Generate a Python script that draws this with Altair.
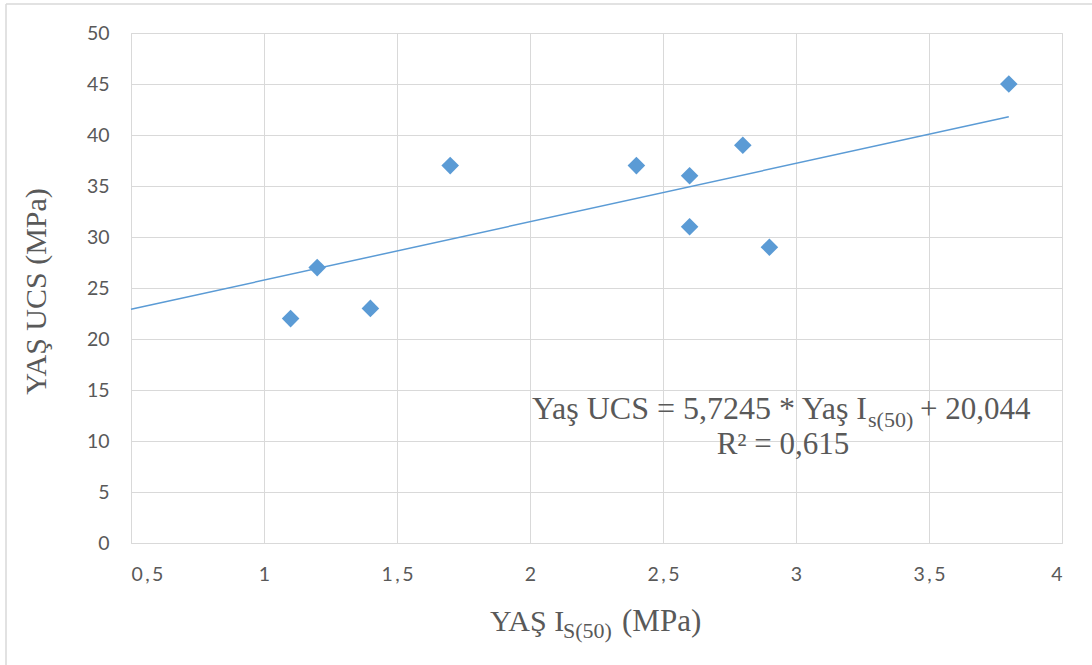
import altair as alt
import pandas as pd

# data
is50 = [1.1, 1.2, 1.4, 1.7, 2.4, 2.6, 2.6, 2.8, 2.9, 3.8]
ucs = [22, 27, 23, 37, 37, 36, 31, 39, 29, 45]

slope = 5.7245
intercept = 20.044
trend_x = [0.5, 3.8]

x_ticks = [0.5, 1, 1.5, 2, 2.5, 3, 3.5, 4]
y_ticks = [0, 5, 10, 15, 20, 25, 30, 35, 40, 45, 50]

y_title = "YAŞ  UCS (MPa)"
x_title_parts = ["YAŞ I", "S(50)", "(MPa)"]
eq_parts = ["Yaş UCS = 5,7245 * Yaş I", "s(50)", "+ 20,044"]
r2_text = "R² = 0,615"

BLUE = "#5B9BD5"
GRID = "#d9d9d9"
TXT = "#595959"
SERIF = "Liberation Serif"
SANS = "Lato"

W, H = 931, 510

df = pd.DataFrame({"x": is50, "y": ucs})
trend_df = pd.DataFrame({"x": trend_x, "y": [slope * v + intercept for v in trend_x]})

xscale = alt.Scale(domain=[0.5, 4], nice=False, zero=False)
yscale = alt.Scale(domain=[0, 50], nice=False)

xaxis = alt.Axis(values=x_ticks, title=None, grid=True, gridColor=GRID, domain=False,
                 ticks=False, labelFont=SANS, labelFontSize=19.5, labelColor=TXT,
                 labelPadding=22, format="~g",
                 labelExpr="replace(datum.label, '.', '\u2009,\u2009')")
yaxis = alt.Axis(values=y_ticks, title=y_title, grid=True, gridColor=GRID, domain=False,
                 ticks=False, labelFont=SANS, labelFontSize=19.5, labelColor=TXT,
                 labelPadding=22,
                 titleFont=SERIF, titleFontSize=30, titleFontWeight="normal",
                 titleColor=TXT, titleX=-95, titleY=258, titleAngle=-90,
                 titleAlign="center", titleBaseline="middle")

points = alt.Chart(df).mark_point(shape="diamond", filled=True, size=310,
                                  color=BLUE, opacity=1).encode(
    x=alt.X("x:Q", scale=xscale, axis=xaxis),
    y=alt.Y("y:Q", scale=yscale, axis=yaxis),
)

trend = alt.Chart(trend_df).mark_line(color=BLUE, strokeWidth=1.5).encode(
    x=alt.X("x:Q", scale=xscale),
    y=alt.Y("y:Q", scale=yscale),
)


def txt(t, x, y, size, align="left"):
    return alt.Chart(alt.Data(values=[{"t": t}])).mark_text(
        font=SERIF, fontSize=size, color=TXT, align=align, baseline="alphabetic"
    ).encode(text="t:N", x=alt.value(x), y=alt.value(y))


labels = [
    txt(x_title_parts[0], 359, 598, 30),
    txt(x_title_parts[1], 432, 605, 22),
    txt(x_title_parts[2], 491, 598, 31),
    txt(eq_parts[0], 736, 386, 32, "right"),
    txt(eq_parts[1], 737, 394, 22),
    txt(eq_parts[2], 789, 386, 31),
    txt(r2_text, 652, 421, 31, "center"),
]

border_left = alt.Chart(alt.Data(values=[{}])).mark_rule(color=GRID, strokeWidth=1.5).encode(
    x=alt.value(-125), y=alt.value(-29), y2=alt.value(640))
border_top = alt.Chart(alt.Data(values=[{}])).mark_rule(color=GRID, strokeWidth=1.5).encode(
    x=alt.value(-125), x2=alt.value(970), y=alt.value(-29))

chart = alt.layer(border_left, border_top, trend, points, *labels).properties(
    width=W, height=H,
    autosize=alt.AutoSizeParams(type="none"),
    padding={"left": 131, "top": 33, "right": 30, "bottom": 122},
    background="white",
).configure_view(stroke=GRID, strokeWidth=1)

chart.save("out.html", embed_options={"renderer": "svg", "actions": False})
